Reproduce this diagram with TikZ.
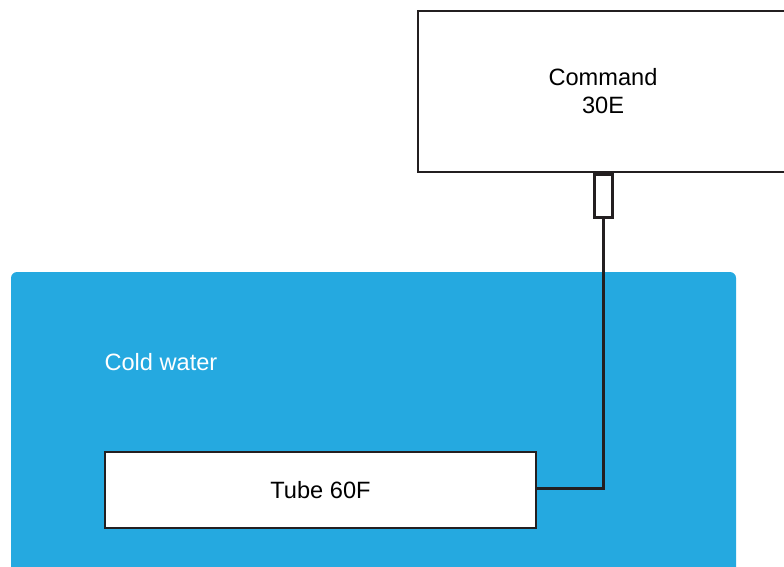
\documentclass[tikz,border=0pt]{standalone}
\usepackage{fontspec}
\setmainfont{Liberation Sans}
\definecolor{water}{HTML}{25A9E0}
\definecolor{ink}{HTML}{231F20}
\tikzset{
  unitbox/.style={draw=ink, line width=2pt, fill=white, inner sep=0pt, align=center,
    font=\fontsize{23.6}{28}\selectfont},
  wire/.style={draw=ink, line width=3pt}
}
\begin{document}
\begin{tikzpicture}[x=1pt, y=-1pt]
        % Cadre
        \useasboundingbox (0,0) rectangle (784,566);
        \clip (0,0) rectangle (784,566);

        % Bassin d'eau froide
        \fill[water, rounded corners=6pt] (11,272) rectangle (736,600);
        \node[white, anchor=base west, font=\fontsize{23.6}{28}\selectfont] (cold) at (101,370) {Cold water};

        % Commande et sa fiche
        \node[unitbox, minimum width=370pt, minimum height=161pt] (cmd) at (603,91.5) {Command\\30E};
        \node[draw=ink, line width=3pt, fill=white, inner sep=0pt,
              minimum width=18pt, minimum height=43pt] (plug) at (603,195.5) {};

        % Tube
        \node[unitbox, minimum width=431pt, minimum height=76pt] (tube) at (320.5,490) {Tube 60F};

        % Liaison
        \draw[wire] (plug.south) |- ([yshift=2pt]tube.east);
\end{tikzpicture}
\end{document}
